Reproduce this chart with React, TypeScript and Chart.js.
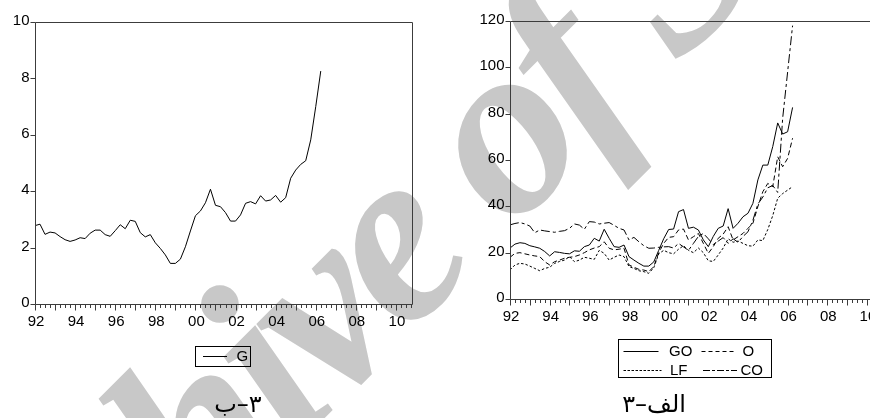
import React, { useEffect, useRef } from 'react';
import { Chart, registerables } from 'chart.js';

Chart.register(...registerables);

// ---------- data ----------
const FIRST_YEAR = 1992; // first quarter: 1992Q1, quarterly observations
const X_MIN = 1992;
const X_MAX = 2010.85;

const xTickYears = [1992, 1994, 1996, 1998, 2000, 2002, 2004, 2006, 2008, 2010];
const xTickLabels = ['92', '94', '96', '98', '00', '02', '04', '06', '08', '10'];
const leftYTicks = [0, 2, 4, 6, 8, 10];
const rightYTicks = [0, 20, 40, 60, 80, 100, 120];

const G = [
  2.78, 2.83, 2.47, 2.55,
  2.52, 2.39, 2.28, 2.22,
  2.27, 2.35, 2.32, 2.51,
  2.62, 2.62, 2.46, 2.4,
  2.6, 2.81, 2.67, 2.97,
  2.93, 2.53, 2.38, 2.46,
  2.17, 1.97, 1.74, 1.44,
  1.44, 1.59, 2.03, 2.59,
  3.13, 3.3, 3.59, 4.07,
  3.5, 3.45, 3.24, 2.94,
  2.94, 3.16, 3.57, 3.63,
  3.55, 3.84, 3.65, 3.69,
  3.85, 3.61, 3.77, 4.46,
  4.75, 4.95, 5.08, 5.82,
  7.0, 8.26,
];

const GO = [
  22, 23.7, 24.3, 24,
  23, 22.5, 21.9, 20.5,
  18.6, 20.4, 20.1, 19.7,
  19.5, 20.8, 20.6, 22.6,
  23.3, 26.2, 25, 30.1,
  26.2, 22.6, 22.3, 23.3,
  18.3, 16.8, 15.4, 14.2,
  14.2, 16, 21, 26,
  30, 30.2, 37.7, 38.6,
  30.5, 31, 29.8, 25.5,
  22.6, 27, 30.5, 31.5,
  39, 30.5, 32.7, 35.5,
  37, 41.3, 51.4, 57.8,
  57.8, 65.8, 76, 71.2,
  72.2, 82.7,
];

const O = [
  18, 19.7, 20, 19.5,
  19, 18.6, 18.3, 16.1,
  14.7, 16.1, 16.8, 17.6,
  18, 18.3, 19, 20,
  21.2, 22, 22.6, 24.7,
  21.9, 21.2, 21.5, 21.9,
  14.7, 13.7, 12.8, 12.5,
  11.8, 14, 20, 24,
  26.6, 26.9, 29.8, 30.2,
  25.5, 26.9, 28.3, 24,
  19.7, 22.6, 26.2, 28,
  31.2, 25.5, 26.9, 28.3,
  30.5, 32.7, 39.9, 46.3,
  49.9, 48.5, 61.4, 57.1,
  60.7, 69.4,
];

const LF = [
  12.5, 14.7, 15.4, 15.1,
  14.2, 13.2, 12.2, 13.2,
  13.7, 15.4, 16.2, 16.8,
  18.3, 16.1, 16.8, 18,
  17.6, 17.1, 21, 19.7,
  16.8, 18, 19, 18.3,
  14, 13.2, 12.2, 11.8,
  11.1, 13.5, 19.5, 21,
  20, 19.5, 21.5, 23,
  21, 20, 22, 20,
  16.5, 16.2, 19, 22,
  26, 24.5, 25, 24,
  23, 22.8, 25.5, 25.2,
  30, 36, 43.5, 45.5,
  47, 48.5,
];

const CO = [
  32, 32.6, 33, 32.4,
  31.5, 28.6, 29.8, 29.4,
  29.1, 28.8, 29.2, 29.5,
  30.5, 32.4, 31.9, 30.1,
  33.4, 33.2, 32.4, 32.7,
  33, 31.8, 30.5, 29.8,
  25.5, 26.6, 24.7, 23,
  21.9, 22, 22.3, 22.5,
  22.6, 22, 24, 22.5,
  21, 24, 27, 28.3,
  26, 23.5, 25, 26.5,
  24, 26, 24.5, 27,
  29, 34, 41, 44,
  48, 49, 46, 78,
  98, 118,
];

// ---------- styling ----------
const FONT = '15px "Liberation Sans", Arial, sans-serif';
const AXIS_COLOR = '#3c3c3c';
const DASH_O = [5, 3];
const DASH_LF = [2.5, 2];
const DASH_CO = [9, 3, 3, 3];

const toPoints = (vals: number[]) => vals.map((v, i) => ({ x: FIRST_YEAR + i / 4, y: v }));

type LegendEntry = { label: string; dash: number[]; x: number; y: number; len: number; textX: number };
type FrameOpts = {
  yTicks: number[];
  box: [number, number, number, number];
  entries: LegendEntry[];
};

function makeFramePlugin(opts: FrameOpts) {
  return {
    id: 'eviewsFrame',
    afterDatasetsDraw(chart: any) {
      const { ctx, chartArea: a } = chart;
      const xs = chart.scales.x;
      const ys = chart.scales.y;
      const L = Math.round(a.left) + 0.5;
      const R = Math.round(a.right) - 0.5;
      const T = Math.round(a.top) + 0.5;
      const B = Math.round(a.bottom) + 0.5;
      ctx.save();
      ctx.setLineDash([]);
      ctx.strokeStyle = AXIS_COLOR;
      ctx.lineWidth = 1;
      ctx.beginPath();
      ctx.rect(L, T, R - L, B - T);
      ctx.stroke();

      // quarterly / yearly ticks on x axis
      ctx.beginPath();
      for (let k = 0; ; k++) {
        const t = X_MIN + k / 4;
        if (t > X_MAX + 1e-6) break;
        const px = Math.round(xs.getPixelForValue(t)) + 0.5;
        const len = k % 4 === 0 ? 6 : 3.5;
        ctx.moveTo(px, B);
        ctx.lineTo(px, B + len);
      }
      ctx.stroke();

      ctx.fillStyle = '#000';
      ctx.font = FONT;
      ctx.textAlign = 'center';
      ctx.textBaseline = 'middle';
      xTickYears.forEach((yr, i) => {
        const px = xs.getPixelForValue(yr);
        ctx.fillText(xTickLabels[i], px + 1, B + 17);
      });

      // y ticks
      ctx.beginPath();
      opts.yTicks.forEach((v) => {
        const py = Math.round(ys.getPixelForValue(v)) + 0.5;
        ctx.moveTo(L - 5, py);
        ctx.lineTo(L, py);
      });
      ctx.stroke();
      ctx.textAlign = 'right';
      opts.yTicks.forEach((v) => {
        const py = ys.getPixelForValue(v);
        ctx.fillText(String(v), L - 6, py - 1);
      });

      // legend
      const [bx, by, bw, bh] = opts.box;
      ctx.strokeStyle = '#000';
      ctx.strokeRect(bx, by, bw, bh);
      ctx.textAlign = 'left';
      opts.entries.forEach((e) => {
        ctx.setLineDash(e.dash);
        ctx.beginPath();
        ctx.moveTo(e.x, e.y);
        ctx.lineTo(e.x + e.len, e.y);
        ctx.stroke();
        ctx.setLineDash([]);
        ctx.fillText(e.label, e.textX, e.y + 0.5);
      });
      ctx.restore();
    },
  };
}

function useChart(
  ref: React.RefObject<HTMLCanvasElement | null>,
  datasets: any[],
  yMax: number,
  padding: { left: number; top: number; right: number; bottom: number },
  plugin: any,
) {
  useEffect(() => {
    if (!ref.current) return;
    const chart = new Chart(ref.current, {
      type: 'line',
      data: { datasets },
      options: {
        responsive: false,
        animation: false,
        events: [],
        layout: { padding },
        parsing: false as any,
        plugins: { legend: { display: false }, tooltip: { enabled: false } },
        elements: { point: { radius: 0 }, line: { tension: 0 } },
        scales: {
          x: { type: 'linear', min: X_MIN, max: X_MAX, display: false },
          y: { type: 'linear', min: 0, max: yMax, display: false },
        },
      },
      plugins: [plugin],
    });
    return () => chart.destroy();
  }, []);
}

const lineDs = (label: string, vals: number[], dash: number[]) => ({
  label,
  data: toPoints(vals),
  borderColor: '#000',
  borderWidth: 1,
  borderDash: dash,
  fill: false,
  pointRadius: 0,
});

export default function App() {
  const leftRef = useRef<HTMLCanvasElement>(null);
  const rightRef = useRef<HTMLCanvasElement>(null);

  useChart(
    leftRef,
    [lineDs('G', G, [])],
    10,
    { left: 35, top: 22, right: 27, bottom: 114 },
    makeFramePlugin({
      yTicks: leftYTicks,
      box: [195.5, 346.5, 55, 20],
      entries: [{ label: 'G', dash: [], x: 203, y: 356.5, len: 24, textX: 236.5 }],
    }),
  );

  useChart(
    rightRef,
    [
      lineDs('GO', GO, []),
      lineDs('O', O, DASH_O),
      lineDs('LF', LF, DASH_LF),
      lineDs('CO', CO, DASH_CO),
    ],
    120,
    { left: 70, top: 21, right: 26.2, bottom: 119 },
    makeFramePlugin({
      yTicks: rightYTicks,
      box: [178.5, 339.5, 153, 38],
      entries: [
        { label: 'GO', dash: [], x: 183.5, y: 351.5, len: 35, textX: 229 },
        { label: 'O', dash: [4, 3], x: 261.5, y: 351.5, len: 35, textX: 302.5 },
        { label: 'LF', dash: [2.5, 1.5], x: 183.5, y: 370.5, len: 38, textX: 230 },
        { label: 'CO', dash: [7, 2, 3, 2], x: 263, y: 370.5, len: 34, textX: 300.5 },
      ],
    }),
  );

  return (
    <div
      style={{
        position: 'fixed',
        left: 0,
        top: 0,
        width: 870,
        height: 418,
        overflow: 'hidden',
        background: '#fff',
      }}
    >
      <div
        style={{
          position: 'absolute',
          left: 396,
          top: 228,
          transform: 'translate(-50%, -50%) rotate(-45deg)',
          fontFamily: '"Liberation Serif", "DejaVu Serif", serif',
          fontWeight: 'bold',
          fontStyle: 'italic',
          fontSize: 250,
          letterSpacing: -12,
          lineHeight: 1,
          color: '#c8c8c8',
          whiteSpace: 'nowrap',
        }}
      >
        Archive of SID
      </div>
      <canvas
        ref={leftRef}
        width={440}
        height={418}
        style={{ position: 'absolute', left: 0, top: 0, width: 440, height: 418 }}
      />
      <canvas
        ref={rightRef}
        width={470}
        height={418}
        style={{ position: 'absolute', left: 440, top: 0, width: 470, height: 418 }}
      />
      <div
        dir="rtl"
        style={{
          position: 'absolute',
          left: 238,
          top: 392,
          transform: 'translateX(-50%)',
          fontFamily: '"DejaVu Sans", sans-serif',
          fontSize: 24,
          lineHeight: 1,
          whiteSpace: 'nowrap',
          color: '#000',
        }}
      >
        ۳–ب
      </div>
      <div
        dir="rtl"
        style={{
          position: 'absolute',
          left: 654,
          top: 392,
          transform: 'translateX(-50%)',
          fontFamily: '"DejaVu Sans", sans-serif',
          fontSize: 24,
          lineHeight: 1,
          whiteSpace: 'nowrap',
          color: '#000',
        }}
      >
        الف–۳
      </div>
    </div>
  );
}
